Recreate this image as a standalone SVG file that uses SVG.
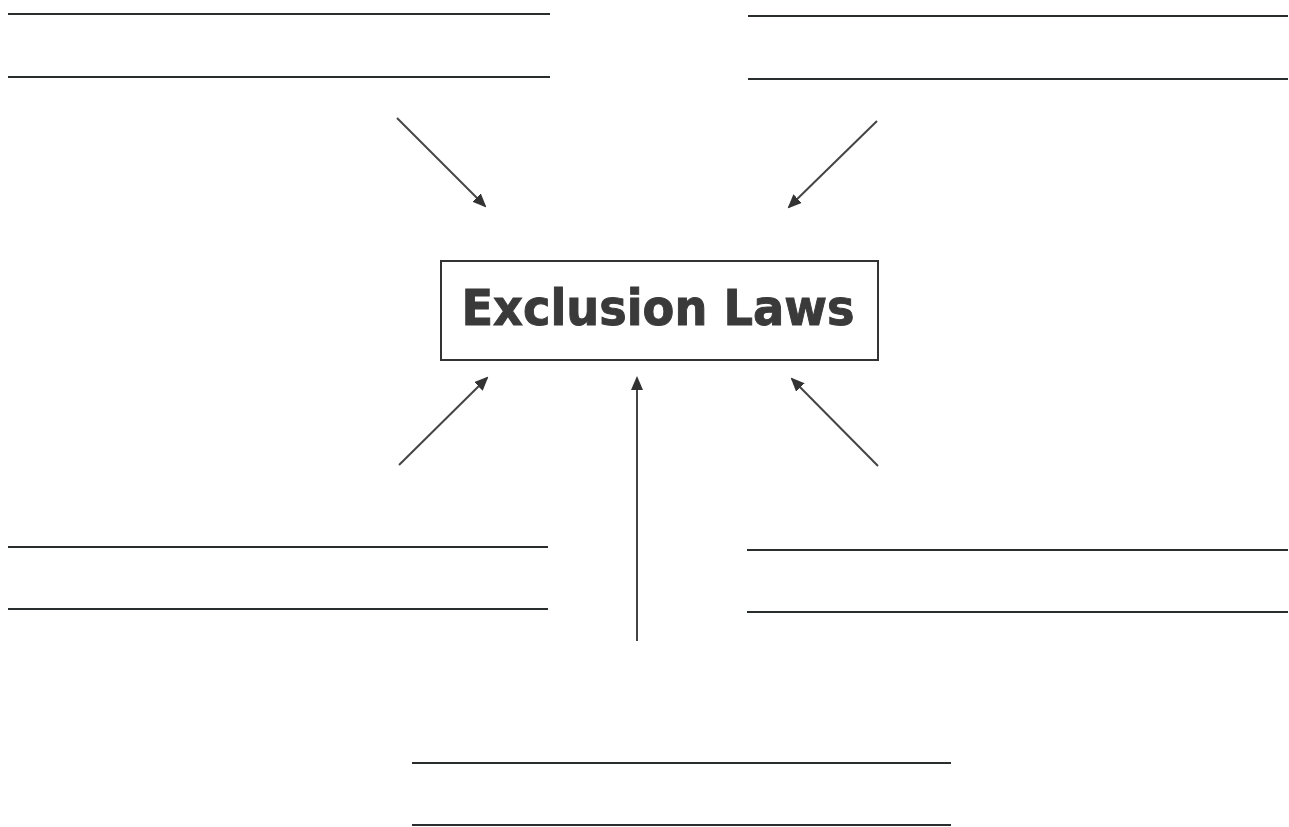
<svg xmlns="http://www.w3.org/2000/svg" width="1289" height="827" viewBox="0 0 1289 827">
<style>
.blank{stroke:#2a2d2e;stroke-width:2;}
.conn{stroke:#444;stroke-width:2;fill:none;marker-end:url(#ah);}
.box{fill:#fff;stroke:#333;stroke-width:2;}
.lbl{font-family:"DejaVu Sans",Verdana,sans-serif;font-weight:bold;fill:#3a3a3a;stroke:#3a3a3a;stroke-width:1;}
</style>
<defs>
<marker id="ah" markerWidth="14" markerHeight="12" refX="12" refY="6" orient="auto" markerUnits="userSpaceOnUse">
<path d="M0,0 L14,6 L0,12 Z" fill="#333"/>
</marker>
</defs>
<rect width="1289" height="827" fill="#fff"/>
<g id="blank-top-left"><line class="blank" x1="8" y1="14" x2="550" y2="14"/><line class="blank" x1="8" y1="77" x2="550" y2="77"/></g>
<g id="blank-top-right"><line class="blank" x1="748" y1="16" x2="1288" y2="16"/><line class="blank" x1="748" y1="79" x2="1288" y2="79"/></g>
<g id="blank-bottom-left"><line class="blank" x1="8" y1="547" x2="548" y2="547"/><line class="blank" x1="8" y1="609" x2="548" y2="609"/></g>
<g id="blank-bottom-right"><line class="blank" x1="747" y1="550" x2="1288" y2="550"/><line class="blank" x1="747" y1="612" x2="1288" y2="612"/></g>
<g id="blank-bottom"><line class="blank" x1="412" y1="763" x2="951" y2="763"/><line class="blank" x1="412" y1="825" x2="951" y2="825"/></g>
<g id="center">
<rect class="box" x="441" y="261" width="437" height="99"/>
<text class="lbl" x="658" y="325" font-size="50" text-anchor="middle" textLength="393" lengthAdjust="spacingAndGlyphs">Exclusion Laws</text>
</g>
<g id="connectors">
<line class="conn" x1="397" y1="118" x2="485" y2="206"/>
<line class="conn" x1="877" y1="121" x2="789" y2="207"/>
<line class="conn" x1="399" y1="465" x2="487" y2="378"/>
<line class="conn" x1="878" y1="466" x2="792" y2="379"/>
<line class="conn" x1="637" y1="641" x2="637" y2="378"/>
</g>
</svg>
